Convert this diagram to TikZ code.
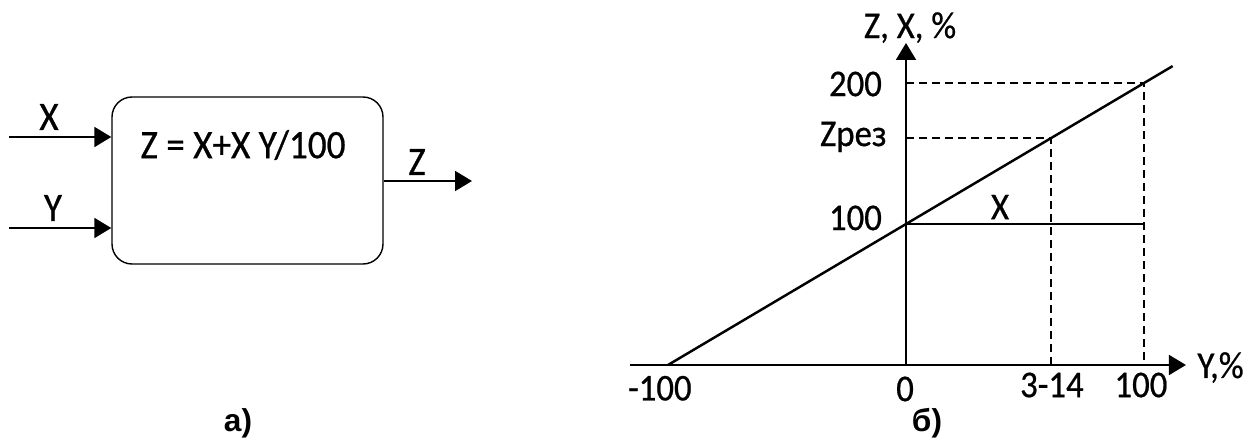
\documentclass[tikz,border=0pt]{standalone}
\usepackage{fontspec}
\setmainfont{Carlito}
\newfontfamily\tallfont{Carlito}[FakeStretch=0.92, FakeBold=0.6]
\newfontfamily\capfont{Liberation Sans}
\usetikzlibrary{arrows.meta, positioning}

\begin{document}
\begin{tikzpicture}[
    arrowLine/.style={line width=1.1pt, -{Triangle[length=0.34cm, width=0.4cm]}},
    dashLine/.style={line width=0.9pt, dash pattern=on 0.16cm off 0.1cm},
    blockText/.style={inner sep=0pt, font=\tallfont\fontsize{23}{27}\selectfont},
    plotText/.style={inner sep=0pt, font=\tallfont\fontsize{21.5}{25}\selectfont},
    capText/.style={inner sep=0pt, font=\capfont\bfseries\fontsize{18}{21}\selectfont}
]
    % Fix picture size
    \useasboundingbox (0,0) rectangle (25.06,8.8);

    % Draw the block
    \node[draw, line width=0.8pt, rounded corners=0.4cm, minimum width=5.42cm, minimum height=3.34cm] (block) at (4.95,5.19) {};
    \node[blockText] (formula) at (4.86,5.9) {Z = X+X Y/100};

    % Inputs and output of the block
    \coordinate (xIn) at (0.18,6.06);
    \coordinate (yIn) at (0.18,4.24);
    \coordinate (zOut) at (9.44,5.18);
    \draw[arrowLine] (xIn) -- (xIn -| block.west);
    \draw[arrowLine] (yIn) -- (yIn -| block.west);
    \draw[arrowLine] (zOut -| block.east) -- (zOut);
    \node[blockText] (xLabel) at (0.98,6.46) {X};
    \node[blockText] (yLabel) at (1.06,4.64) {Y};
    \node[blockText] (zLabel) at (8.34,5.56) {Z};

    % Draw the graph
    \begin{scope}[shift={(18.12,1.5)}, x=0.0476cm, y=0.0282cm]
        \coordinate (origin) at (0,0);
        \coordinate (xStart) at (-116,0);
        \coordinate (xEnd) at (117.6,0);
        \coordinate (yEnd) at (0,228.4);
        \coordinate (lineStart) at (-100,0);
        \coordinate (lineEnd) at (112,212);
        \coordinate (top) at (100,200);
        \coordinate (res) at (61,161);

        % Draw axes
        \draw[arrowLine] (xStart) -- (xEnd);
        \draw[arrowLine] (origin) -- (yEnd);

        % Draw dashed guides
        \draw[dashLine] (top -| origin) -- (top) -- (top |- origin);
        \draw[dashLine] (res -| origin) -- (res) -- (res |- origin);

        % Draw the X level and the Z line
        \draw[line width=1.4pt] (0,100) -- (100,100);
        \draw[line width=1.4pt] (lineStart) -- (lineEnd);

        % Label axes
        \node[plotText, anchor=base west] (yAxisLabel) at (122.3,-9.2) {Y,\%};
        \node[plotText, anchor=base] (zAxisLabel) at (1.7,231.9) {Z, X, \%};
        \node[plotText, anchor=east] (label200) at (-10,199.3) {200};
        \node[plotText, anchor=base east] (labelRes) at (-8,155.3) {Zрез};
        \node[plotText, anchor=east] (label100) at (-10,104.3) {100};
        \node[plotText] (labelMinus) at (-103.4,-16.5) {-100};
        \node[plotText] (labelZero) at (-0.4,-17) {0};
        \node[plotText] (labelRange) at (61.3,-14.2) {3-14};
        \node[plotText] (labelHundred) at (98.7,-14.2) {100};
        \node[plotText] (xLevelLabel) at (39.5,112) {X};
    \end{scope}

    % Captions
    \node[capText] (capA) at (4.76,0.34) {а)};
    \node[capText] (capB) at (18.54,0.34) {б)};

\end{tikzpicture}
\end{document}
